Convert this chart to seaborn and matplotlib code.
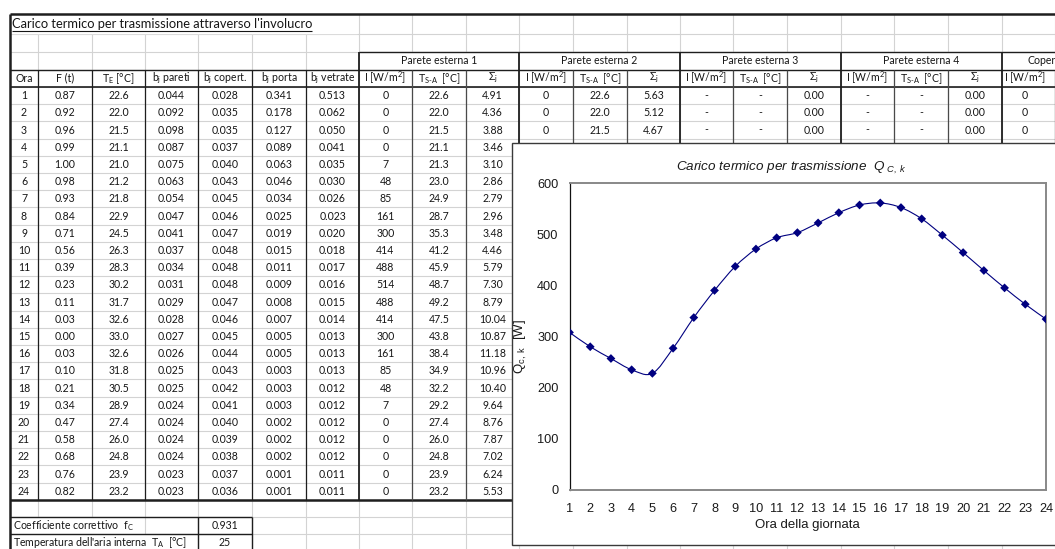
import numpy as np
import pandas as pd
import matplotlib
matplotlib.use("Agg")
import matplotlib.pyplot as plt
import seaborn as sns
from matplotlib.path import Path
from matplotlib.patches import PathPatch, Rectangle

# ---------------- hourly data ----------------
ora = list(range(1, 25))
f_t = [0.87, 0.92, 0.96, 0.99, 1.00, 0.98, 0.93, 0.84, 0.71, 0.56, 0.39, 0.23,
       0.11, 0.03, 0.00, 0.03, 0.10, 0.21, 0.34, 0.47, 0.58, 0.68, 0.76, 0.82]
t_e = [22.6, 22.0, 21.5, 21.1, 21.0, 21.2, 21.8, 22.9, 24.5, 26.3, 28.3, 30.2,
       31.7, 32.6, 33.0, 32.6, 31.8, 30.5, 28.9, 27.4, 26.0, 24.8, 23.9, 23.2]
b_pareti = [0.044, 0.092, 0.098, 0.087, 0.075, 0.063, 0.054, 0.047, 0.041, 0.037, 0.034, 0.031,
            0.029, 0.028, 0.027, 0.026, 0.025, 0.025, 0.024, 0.024, 0.024, 0.024, 0.023, 0.023]
b_copert = [0.028, 0.035, 0.035, 0.037, 0.040, 0.043, 0.045, 0.046, 0.047, 0.048, 0.048, 0.048,
            0.047, 0.046, 0.045, 0.044, 0.043, 0.042, 0.041, 0.040, 0.039, 0.038, 0.037, 0.036]
b_porta = [0.341, 0.178, 0.127, 0.089, 0.063, 0.046, 0.034, 0.025, 0.019, 0.015, 0.011, 0.009,
           0.008, 0.007, 0.005, 0.005, 0.003, 0.003, 0.003, 0.002, 0.002, 0.002, 0.001, 0.001]
b_vetrate = [0.513, 0.062, 0.050, 0.041, 0.035, 0.030, 0.026, 0.023, 0.020, 0.018, 0.017, 0.016,
             0.015, 0.014, 0.013, 0.013, 0.013, 0.012, 0.012, 0.012, 0.012, 0.012, 0.011, 0.011]
# Parete esterna 1
irr_pe1 = [0, 0, 0, 0, 7, 48, 85, 161, 300, 414, 488, 514,
           488, 414, 300, 161, 85, 48, 7, 0, 0, 0, 0, 0]
tsa_pe1 = [22.6, 22.0, 21.5, 21.1, 21.3, 23.0, 24.9, 28.7, 35.3, 41.2, 45.9, 48.7,
           49.2, 47.5, 43.8, 38.4, 34.9, 32.2, 29.2, 27.4, 26.0, 24.8, 23.9, 23.2]
sig_pe1 = [4.91, 4.36, 3.88, 3.46, 3.10, 2.86, 2.79, 2.96, 3.48, 4.46, 5.79, 7.30,
           8.79, 10.04, 10.87, 11.18, 10.96, 10.40, 9.64, 8.76, 7.87, 7.02, 6.24, 5.53]
# Parete esterna 2 (first hours)
irr_pe2 = [0, 0, 0]
tsa_pe2 = [22.6, 22.0, 21.5]
sig_pe2 = [5.63, 5.12, 4.67]
# Parete esterna 3 / 4 (no exposure)
irr_pe3 = ["-", "-", "-"]
tsa_pe3 = ["-", "-", "-"]
sig_pe3 = [0.00, 0.00, 0.00]
irr_pe4 = ["-", "-", "-"]
tsa_pe4 = ["-", "-", "-"]
sig_pe4 = [0.00, 0.00, 0.00]
# Copertura
irr_cop = [0, 0, 0]

coeff_fc = 0.931
temp_ta = 25

# Transmission heat load per hour [W]
q_ck = [308, 280, 257, 235, 228, 277, 337, 390, 437, 471, 493, 503,
        522, 542, 557, 561, 552, 530, 498, 464, 429, 395, 363, 334]

left_headers = ["Ora", "F (t)", r"T$_\mathrm{E}$ [°C]", r"b$_\mathrm{j}$ pareti",
                r"b$_\mathrm{j}$ copert.", r"b$_\mathrm{j}$ porta", r"b$_\mathrm{j}$ vetrate"]
group_headers = ["Parete esterna 1", "Parete esterna 2", "Parete esterna 3",
                 "Parete esterna 4", "Copertura"]
sub_headers = [r"I [W/m$^\mathrm{2}$]", r"T$_\mathrm{S\text{-}A}$  [°C]", r"$\Sigma_\mathrm{j}$"]

# ---------------- styling ----------------
sns.set_style("white")
plt.rcParams["font.family"] = ["Lato", "DejaVu Sans"]
plt.rcParams["mathtext.fontset"] = "custom"
plt.rcParams["mathtext.rm"] = "Lato"
plt.rcParams["mathtext.it"] = "Liberation Sans:italic"
plt.rcParams["mathtext.sf"] = "Liberation Sans"

W, H = 1055, 549
fig = plt.figure(figsize=(W / 100, H / 100), dpi=100)
fig.patch.set_facecolor("white")
bg = fig.add_axes([0, 0, 1, 1], zorder=0)
bg.set_xlim(0, W)
bg.set_ylim(H, 0)
bg.axis("off")

GRID = "#d3d3d3"
DARK = "#1e1e1e"
MID = "#4a4a4a"
TXT = "#161616"
FS = 7.6

cx = [10, 38, 92, 145, 198, 252, 306, 359, 412, 466, 519, 573, 627, 680,
      733, 787, 841, 894, 948, 1002, 1055, 1109, 1163]
RH = 17.2
data_top = 87.0
ry = [14, 33.5, 51.5, 69.5, data_top] + [data_top + RH * k for k in range(1, 25)]
data_bot = ry[-1]
ry_extra = [516.5, 534.0, 551.5]


def hline(y, x0, x1, color=DARK, lw=1.0, z=2):
    bg.plot([x0, x1], [y, y], color=color, lw=lw, zorder=z, solid_capstyle="butt")


def vline(x, y0, y1, color=DARK, lw=1.0, z=2):
    bg.plot([x, x], [y0, y1], color=color, lw=lw, zorder=z, solid_capstyle="butt")


# sheet gridlines
for x in cx[1:]:
    vline(x, 14, H, color=GRID, lw=0.8, z=1)
for y in ry[1:] + ry_extra:
    hline(y, 10, W, color=GRID, lw=0.8, z=1)

# text overflow hides gridlines
bg.add_patch(Rectangle((11, 15), 346, ry[1] - 15 - 0.8, color="white", zorder=1.5))
bg.add_patch(Rectangle((11, ry_extra[0] + 0.8), 132, ry_extra[1] - ry_extra[0] - 1.6,
                       color="white", zorder=1.5))
bg.add_patch(Rectangle((11, ry_extra[1] + 0.8), 185, ry_extra[2] - ry_extra[1] - 1.6,
                       color="white", zorder=1.5))
# merged group headers
for g in range(5):
    bg.add_patch(Rectangle((cx[7 + 3 * g] + 1, ry[2] + 0.8), cx[10 + 3 * g] - cx[7 + 3 * g] - 2,
                           ry[3] - ry[2] - 1.6, color="white", zorder=1.5))

# borders
hline(14, 10, W, lw=1.8)
vline(10, 14, H, lw=1.8)
hline(ry[3], 10, W, lw=1.0)
hline(ry[2], cx[7], W, lw=1.0)
hline(data_top, 10, W, lw=1.2)
hline(data_bot, 10, W, lw=1.8)
for x in cx[1:7]:
    vline(x, ry[3], data_bot, lw=0.9)
for g in range(5):
    vline(cx[7 + 3 * g], ry[2], data_bot, lw=1.3)
    vline(cx[8 + 3 * g], ry[3], data_bot, color=MID, lw=0.9)
    vline(cx[9 + 3 * g], ry[3], data_bot, color=MID, lw=0.9)
hline(ry_extra[0], 10, cx[5], lw=1.0)
hline(ry_extra[1], 10, cx[5], lw=1.0)
vline(cx[4], ry_extra[0], H, lw=1.0)
vline(cx[5], ry_extra[0], H, lw=1.0)


def cell(col, y, s, dx=0, **kw):
    xc = (cx[col] + cx[col + 1]) / 2 + dx
    bg.text(xc, y, s, ha="center", va="center", fontsize=FS, color=TXT, zorder=3, **kw)


# title row
title = bg.text(12, 24.5, "Carico termico per trasmissione attraverso l'involucro",
                ha="left", va="center", fontsize=9.3, color=TXT, zorder=3)
fig.canvas.draw()
bb = title.get_window_extent(renderer=fig.canvas.get_renderer())
hline(31.2, bb.x0, bb.x1, color=TXT, lw=0.8, z=3)

# headers
yh_group = (ry[2] + ry[3]) / 2
yh_sub = (ry[3] + data_top) / 2
for i, h in enumerate(left_headers):
    cell(i, yh_sub, h)
for g, h in enumerate(group_headers):
    x0, x1 = cx[7 + 3 * g], cx[10 + 3 * g]
    if g < 4:
        bg.text((x0 + x1) / 2, yh_group, h, ha="center", va="center", fontsize=FS,
                color=TXT, zorder=3)
        for k, s in enumerate(sub_headers):
            cell(7 + 3 * g + k, yh_sub, s)
    else:
        # last group: only its first column lies inside the sheet view
        bg.text(x0 + 26, yh_group, h, ha="left", va="center", fontsize=FS,
                color=TXT, zorder=3)
        cell(7 + 3 * g, yh_sub, sub_headers[0], dx=-3.5)

# body
fmt = lambda v, d: v if isinstance(v, str) else f"{v:.{d}f}"
for r in range(24):
    y = data_top + RH * (r + 0.5)
    cell(0, y, f"{ora[r]}")
    cell(1, y, fmt(f_t[r], 2))
    cell(2, y, fmt(t_e[r], 1))
    cell(3, y, fmt(b_pareti[r], 3))
    cell(4, y, fmt(b_copert[r], 3))
    cell(5, y, fmt(b_porta[r], 3))
    cell(6, y, fmt(b_vetrate[r], 3))
    cell(7, y, fmt(irr_pe1[r], 0))
    cell(8, y, fmt(tsa_pe1[r], 1))
    cell(9, y, fmt(sig_pe1[r], 2))
for r in range(3):
    y = data_top + RH * (r + 0.5)
    for k, (a, b, c) in enumerate([(irr_pe2, tsa_pe2, sig_pe2), (irr_pe3, tsa_pe3, sig_pe3),
                                   (irr_pe4, tsa_pe4, sig_pe4)]):
        base = 10 + 3 * k
        cell(base, y, fmt(a[r], 0))
        cell(base + 1, y, fmt(b[r], 1))
        cell(base + 2, y, fmt(c[r], 2))
    cell(19, y, fmt(irr_cop[r], 0), dx=-3.5)

# footer rows
y1 = (ry_extra[0] + ry_extra[1]) / 2
y2 = (ry_extra[1] + ry_extra[2]) / 2
bg.text(13, y1, r"Coefficiente correttivo  f$_\mathrm{C}$", ha="left", va="center",
        fontsize=FS, color=TXT, zorder=3)
bg.text(13, y2, r"Temperatura dell'aria interna  T$_\mathrm{A}$  [°C]", ha="left", va="center",
        fontsize=FS, color=TXT, zorder=3)
cell(4, y1, f"{coeff_fc:.3f}")
cell(4, y2, f"{temp_ta}")

# chart container
bg.add_patch(Rectangle((512, 142.5), 600, 402.5, facecolor="white",
                       edgecolor="#3a3a3a", lw=1.0, zorder=10))

# ---------------- chart ----------------
px_l, px_r, px_t, px_b = 569.5, 1046, 183, 490
ax = fig.add_axes([px_l / W, 1 - px_b / H, (px_r - px_l) / W, (px_b - px_t) / H], zorder=2)
ax.set_facecolor("white")

df = pd.DataFrame({"Ora": ora, "Q": q_ck})


def smooth_path(x, y):
    x = np.asarray(x, float)
    y = np.asarray(y, float)
    n = len(x)
    verts = [(x[0], y[0])]
    codes = [Path.MOVETO]
    for i in range(n - 1):
        xa, ya = (x[i - 1], y[i - 1]) if i > 0 else (x[i], y[i])
        xd, yd = (x[i + 2], y[i + 2]) if i + 2 < n else (x[i + 1], y[i + 1])
        c1 = (x[i] + (x[i + 1] - xa) / 6, y[i] + (y[i + 1] - ya) / 6)
        c2 = (x[i + 1] - (xd - x[i]) / 6, y[i + 1] - (yd - y[i]) / 6)
        verts += [c1, c2, (x[i + 1], y[i + 1])]
        codes += [Path.CURVE4] * 3
    return Path(verts, codes)


NAVY = "#000080"
ax.add_patch(PathPatch(smooth_path(df["Ora"], df["Q"]), facecolor="none",
                       edgecolor=NAVY, lw=0.8, zorder=2))
sns.scatterplot(data=df, x="Ora", y="Q", marker="D", s=20, color=NAVY,
                edgecolor="none", linewidth=0, ax=ax, zorder=3, legend=False)

ax.set_xlim(1, 24)
ax.set_ylim(0, 600)
ax.set_xticks(ora)
ax.set_yticks(range(0, 601, 100))
for lab in ax.get_xticklabels() + ax.get_yticklabels():
    lab.set_fontfamily("Liberation Sans")
    lab.set_fontsize(9.2)
    lab.set_color("#1a1a1a")
ax.tick_params(axis="x", direction="inout", length=5, width=0.8, color="#666666", pad=6.5)
ax.tick_params(axis="y", direction="out", length=4, width=0.8, color="#222222", pad=4)
ax.set_xlabel("Ora della giornata", fontfamily="Liberation Sans", fontsize=9.5,
              color="#1a1a1a", labelpad=3.5)
ax.set_ylabel(r"$\mathsf{Q}_{\mathsf{c,\ k}}$  [W]", fontfamily="Liberation Sans",
              fontsize=9.5, color="#1a1a1a")
ax.yaxis.set_label_coords((529 - px_l) / (px_r - px_l), 1 - (346 - px_t) / (px_b - px_t))
for side in ["top", "right", "bottom"]:
    ax.spines[side].set_color("#888888")
    ax.spines[side].set_linewidth(1.4)
ax.spines["left"].set_color("#111111")
ax.spines["left"].set_linewidth(0.9)

fig.text(791 / W, 1 - 168 / H, r"Carico termico per trasmissione  $Q_{\ C,\ k}$",
         ha="center", va="center", fontsize=9.7, style="italic",
         fontfamily="Liberation Sans", color="#1a1a1a", zorder=5)

fig.savefig("out.png", dpi=100, facecolor="white")
